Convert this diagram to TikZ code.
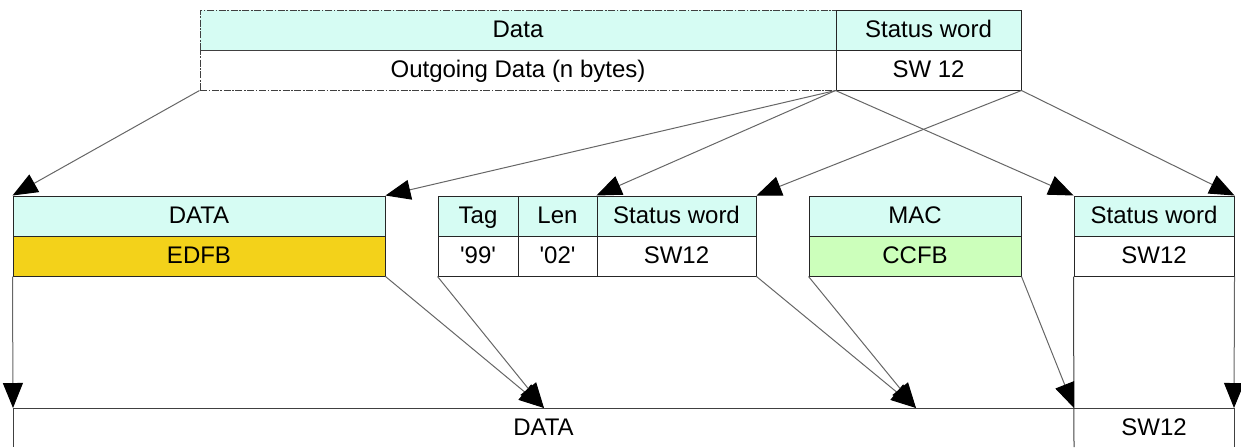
\documentclass[tikz,border=0pt]{standalone}
\usepackage{fontspec}
\setmainfont{Liberation Sans}
\usetikzlibrary{arrows.meta}

\definecolor{headcyan}{RGB}{214,252,243}
\definecolor{encgold}{RGB}{243,210,26}
\definecolor{macgreen}{RGB}{204,255,187}
\newcommand{\qt}[1]{\textquotesingle#1\textquotesingle}

\begin{document}
\begin{tikzpicture}
[x=0.5pt,y=-0.5pt
,cell/.style={draw=black!85,line width=0.5pt,inner sep=0pt,minimum height=20pt,font=\fontsize{12}{14}\selectfont,text height=8.6pt,text depth=1.4pt}
,head/.style={cell,fill=headcyan}
,dcell/.style={draw=black!75,dash pattern=on 3.5pt off 0.8pt on 0.8pt off 0.8pt}
,conn/.style={draw=black!60,line width=0.5pt,arrows={-Triangle[length=12.5pt,width=10pt,color=black]}}
,edge/.style={draw=black!75,line width=0.5pt}
,lbl/.style={font=\fontsize{12}{14}\selectfont,inner sep=0pt,text height=8.6pt,text depth=1.4pt}
]
\useasboundingbox (0,0) rectangle (1241,447);
% outgoing response
\node[head,dcell,minimum width=318pt] (dataHead) at (518,30) {Data};
\node[cell,dcell,minimum width=318pt] (dataBody) at (518,70) {Outgoing Data (n bytes)};
\node[head,minimum width=92.5pt] (swHead) at (928.5,30) {Status word};
\node[cell,minimum width=92.5pt] (swBody) at (928.5,70) {SW 12};
% secured response
\node[head,minimum width=186pt] (encHead) at (199,216) {DATA};
\node[cell,fill=encgold,minimum width=186pt] (encBody) at (199,256) {EDFB};
\node[head,minimum width=40pt] (tagHead) at (478,216) {Tag};
\node[cell,minimum width=40pt] (tagBody) at (478,256) {\qt{99}};
\node[head,minimum width=39.5pt] (lenHead) at (557.5,216) {Len};
\node[cell,minimum width=39.5pt] (lenBody) at (557.5,256) {\qt{02}};
\node[head,minimum width=79.5pt] (swtHead) at (676.5,216) {Status word};
\node[cell,minimum width=79.5pt] (swtBody) at (676.5,256) {SW12};
\node[head,minimum width=106pt] (macHead) at (915,216) {MAC};
\node[cell,fill=macgreen,minimum width=106pt] (macBody) at (915,256) {CCFB};
\node[head,minimum width=80pt] (sw2Head) at (1154,216) {Status word};
\node[cell,minimum width=80pt] (sw2Body) at (1154,256) {SW12};
% unwrapped response
\coordinate (outL) at (13,408);
\coordinate (outA) at (544,408);
\coordinate (outB) at (916,408);
\coordinate (outM) at (1074,408);
\coordinate (outR) at (1234,408);
\coordinate (botL) at (13,447);
\coordinate (botM) at (1074,447);
\coordinate (botR) at (1234,447);
\node[lbl] (outData) at (543.5,428) {DATA};
\node[lbl] (outSW) at (1154,428) {SW12};
\draw[edge] (outL) -- (outR);
\draw[edge] (outL) -- (botL);
\draw[edge] (sw2Body.south west) -- (botM);
\draw[edge] (outR) -- (botR);
% mapping arrows
\draw[conn] (dataBody.south west) -- (encHead.north west);
\draw[conn] (swBody.south west) -- (encHead.north east);
\draw[conn] (swBody.south west) -- (swtHead.north west);
\draw[conn] (swBody.south west) -- (sw2Head.north west);
\draw[conn] (swBody.south east) -- (swtHead.north east);
\draw[conn] (swBody.south east) -- (sw2Head.north east);
\draw[conn] (encBody.south west) -- (outL);
\draw[conn] (encBody.south east) -- (outA);
\draw[conn] (tagBody.south west) -- (outA);
\draw[conn] (swtBody.south east) -- (outB);
\draw[conn] (macBody.south west) -- (outB);
\draw[conn] (macBody.south east) -- (outM);
\draw[conn] (sw2Body.south east) -- (outR);
\end{tikzpicture}
\end{document}
